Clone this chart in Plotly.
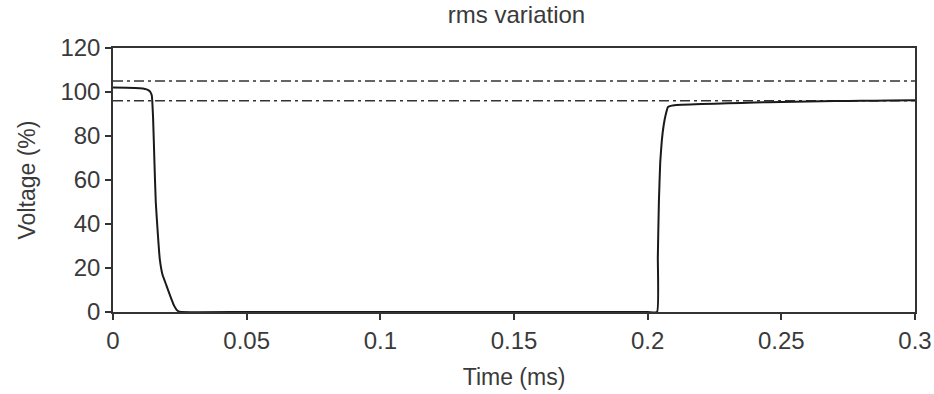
import plotly.graph_objects as go

time_ms = [0, 0.005, 0.010, 0.012, 0.013, 0.0138, 0.0145, 0.0150, 0.0155, 0.0160, 0.0168, 0.0175,
           0.0185, 0.0200, 0.0215, 0.0228, 0.0238, 0.0245, 0.0255, 0.05, 0.1, 0.15, 0.2, 0.2035,
           0.2038, 0.2042, 0.2047, 0.2053, 0.2060, 0.2068, 0.2076, 0.2090, 0.2100, 0.22, 0.23,
           0.24, 0.25, 0.26, 0.27, 0.28, 0.29, 0.30]
voltage = [102, 101.9, 101.7, 101.4, 101.0, 100.3, 98.5, 88, 68, 50, 35, 24,
           17, 12, 7, 3, 1, 0.3, 0, 0, 0, 0, 0, 0,
           25, 50, 68, 78, 85, 90, 93.2, 93.8, 94.0, 94.5, 94.9,
           95.2, 95.5, 95.7, 95.9, 96.0, 96.1, 96.2]
upper_limit = 105
lower_limit = 96
x_range = [0, 0.3]
y_range = [0, 120]

fig = go.Figure()
for lim in [upper_limit, lower_limit]:
    fig.add_trace(go.Scatter(x=x_range, y=[lim, lim], mode="lines",
                             line=dict(color="#333333", width=1.6, dash="10px,4px,3px,4px"),
                             showlegend=False, hoverinfo="skip"))
fig.add_trace(go.Scatter(x=time_ms, y=voltage, mode="lines",
                         line=dict(color="#1a1a1a", width=2, shape="spline", smoothing=0.4),
                         showlegend=False))

font = dict(family="Liberation Sans, Arial, sans-serif", color="#3a3a3a")
fig.update_layout(
    width=934, height=394,
    margin=dict(l=113, r=19, t=48, b=82, autoexpand=False),
    paper_bgcolor="white", plot_bgcolor="white",
    font=dict(size=24, **font),
    title=dict(text="rms variation", x=0.553, xanchor="center", y=0.962, yanchor="middle",
               font=dict(size=24, **font)),
    xaxis=dict(range=x_range, tickvals=[0, 0.05, 0.1, 0.15, 0.2, 0.25, 0.3],
               ticktext=["0", "0.05", "0.1", "0.15", "0.2", "0.25", "0.3"],
               tickfont=dict(size=24, **font), automargin=False,
               ticks="outside", ticklen=6, tickwidth=1.5, tickcolor="#333",
               showline=True, linecolor="#333", linewidth=1.5, mirror=True,
               showgrid=False, zeroline=False,
               title=dict(text="Time (ms)", font=dict(size=23, **font), standoff=16)),
    yaxis=dict(range=y_range, tickvals=[0, 20, 40, 60, 80, 100, 120],
               tickfont=dict(size=24, **font), automargin=False,
               ticks="outside", ticklen=6, tickwidth=1.5, tickcolor="#333",
               showline=True, linecolor="#333", linewidth=1.5, mirror=True,
               showgrid=False, zeroline=False,
               title=dict(text="Voltage (%)", font=dict(size=23, **font), standoff=18)),
)
fig.write_html("out.html")
